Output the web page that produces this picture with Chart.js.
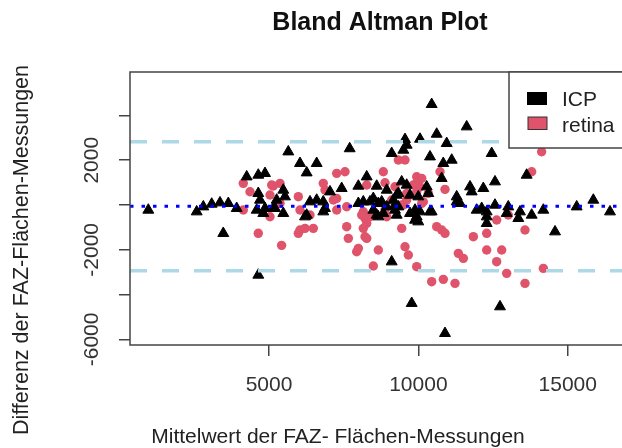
<!DOCTYPE html>
<html>
<head>
<meta charset="utf-8">
<script src="https://cdn.jsdelivr.net/npm/chart.js@4/dist/chart.umd.min.js"></script>
<style>
html,body{margin:0;padding:0;background:#fff;overflow:hidden;}
#wrap{width:640px;height:448px;}
</style>
</head>
<body>
<div id="wrap"><canvas id="c" width="640" height="448"></canvas></div>
<script>
// ---- data ----
const icpMean = [958,2578,2800,3080,3358,3636,3917,3468,4252,4640,4865,4640,4697,4587,4808,4865,5200,4640,5256,5477,5534,5477,5142,5645,6036,6595,6260,6204,6371,6595,6816,6873,7041,7432,7700,6260,6816,8270,7990,8605,8940,9441,9329,9106,9497,9552,9608,10054,10445,10613,10948,10389,10834,11116,10780,10278,11617,11283,11283,9997,9274,9719,10333,9608,11393,9719,9943,9997,9887,10445,9776,10891,9106,8156,8491,8772,9160,8491,8659,9217,9274,7990,8380,8659,8605,10054,10389,9887,11729,11785,12174,12565,11952,12120,12287,12565,12287,12287,13010,12956,13402,13346,13793,14183,15300,15857,16415,14575,12732,12454,13625,9329,9217,8940,8826];
const icpDiff = [-223,-299,-76,45,103,76,-147,-1263,1263,1339,1415,522,223,-223,-370,-147,-147,-3125,223,670,372,-370,-147,2380,1862,1862,1442,-522,148,223,148,-147,594,744,2520,-446,-299,1263,848,848,670,1041,522,2307,2455,2932,2678,2946,4495,3169,2753,2156,1862,2009,1192,818,3497,372,148,372,446,446,522,893,76,-370,-522,-745,-223,-299,-4388,-5729,-2531,148,299,148,223,-223,-522,-223,-446,76,148,76,-446,-299,-299,-670,818,594,745,1041,-223,-147,-299,0,-522,-818,-76,-370,-299,-594,-446,-223,-76,223,-299,-1192,-4538,2307,1339,-76,0,-76,-370];
const retinaMean = [4138,4362,5142,5032,4138,5032,5088,5367,5367,4640,5420,5980,6036,6371,6036,6204,6483,5980,6816,6873,7265,7543,7152,7265,7600,7655,7600,7265,8270,8826,8883,9217,9329,9552,9943,10111,9829,10054,9943,9943,10891,10724,9608,9106,8156,8213,8270,8102,8380,8883,8940,9441,9497,10165,10111,8156,8213,8270,9441,10613,10780,10891,11840,9552,9664,9943,7990,7934,8491,8659,10445,10835,11226,11338,11505,10333,9608,12621,13010,13569,12287,12287,12789,12621,12956,13569,14183,14127,13793];
const retinaDiff = [969,594,848,446,-223,-522,893,969,76,-1263,-1800,372,-223,-446,-1116,-1042,-1042,-1263,969,670,1415,1487,223,-223,-967,-1487,-76,299,893,1487,997,818,2009,2009,1263,1192,893,818,594,969,700,1487,223,223,-299,-595,-818,-446,-522,-223,-522,0,0,148,76,-1042,-1415,-1487,-1042,-967,-1116,-1263,-1414,-1862,-2232,-2753,-1935,-2084,-2723,-2009,-3423,-3318,-3497,-2157,-2380,522,522,-670,-446,-1116,-1263,-2009,-2009,-2530,-3050,-3497,-2827,2380,1487];
const meanDiff = -50;
const upperLoA = 2830;
const lowerLoA = -2930;
const xTickValues = [5000, 10000, 15000];
const yTickValues = [-6000, -4000, -2000, 0, 2000, 4000];
const yTickLabels = {"-6000": "-6000", "-2000": "-2000", "2000": "2000"};
const seriesNames = ["ICP", "retina"];
const titleText = "Bland Altman Plot";
const xTitle = "Mittelwert der FAZ- Flächen-Messungen";
const yTitle = "Differenz der FAZ-Flächen-Messungen";

// ---- build ----
const X_MIN = 345, X_MAX = 17085, Y_MIN = -6250, Y_MAX = 5940;
const PINK = '#DF536B';
const FONT = "'Liberation Sans', Arial, sans-serif";
const toPts = (xs, ys) => xs.map((x, i) => ({x: x, y: ys[i]}));
const hline = (v) => [{x: X_MIN, y: v}, {x: X_MAX, y: v}];

const rPlugin = {
  id: 'rstyle',
  afterDatasetsDraw(chart) {
    const ctx = chart.ctx, a = chart.chartArea;
    ctx.save();
    // box
    ctx.strokeStyle = '#444'; ctx.lineWidth = 1.5;
    ctx.strokeRect(a.left, a.top, a.right - a.left, a.bottom - a.top);
    // legend
    const lx = 509, ly = a.top, lw = a.right - lx, lh = 76;
    ctx.fillStyle = '#fff';
    ctx.fillRect(lx, ly, lw, lh);
    ctx.strokeRect(lx, ly, lw, lh);
    ctx.fillStyle = '#000';
    ctx.fillRect(527, 92, 20, 13);
    ctx.fillStyle = PINK;
    ctx.fillRect(528, 117, 19, 12.5);
    ctx.strokeStyle = '#333'; ctx.lineWidth = 1;
    ctx.strokeRect(528, 117, 19, 12.5);
    ctx.fillStyle = '#222';
    ctx.font = '21px ' + FONT;
    ctx.textAlign = 'left'; ctx.textBaseline = 'alphabetic';
    ctx.fillText(seriesNames[0], 562, 106);
    ctx.fillText(seriesNames[1], 562, 132);
    ctx.restore();
  },
  afterDraw(chart) {
    const ctx = chart.ctx, ys = chart.scales.y;
    ctx.save();
    ctx.fillStyle = '#333';
    ctx.font = '21px ' + FONT;
    ctx.textAlign = 'center'; ctx.textBaseline = 'middle';
    yTickValues.forEach(v => {
      const lab = yTickLabels[String(v)];
      if (!lab) return;
      const py = ys.getPixelForValue(v);
      ctx.save(); ctx.translate(92, py); ctx.rotate(-Math.PI / 2);
      ctx.fillText(lab, 0, 0); ctx.restore();
    });
    // axis titles
    ctx.fillStyle = '#222';
    ctx.font = '21.5px ' + FONT;
    ctx.save(); ctx.translate(22, 250); ctx.rotate(-Math.PI / 2);
    ctx.fillText(yTitle, 0, 0); ctx.restore();
    ctx.font = '21px ' + FONT;
    ctx.textBaseline = 'alphabetic';
    ctx.fillText(xTitle, 338, 443);
    ctx.restore();
  }
};

new Chart(document.getElementById('c'), {
  type: 'scatter',
  data: {
    datasets: [
      {label: 'upper', type: 'line', data: hline(upperLoA), borderColor: '#ADD8E6', borderWidth: 3.5, borderDash: [17, 15], pointRadius: 0, order: 0},
      {label: 'lower', type: 'line', data: hline(lowerLoA), borderColor: '#ADD8E6', borderWidth: 3.5, borderDash: [17, 15], pointRadius: 0, order: 0},
      {label: 'mean', type: 'line', data: hline(meanDiff), borderColor: '#0000FF', borderWidth: 3, borderDash: [3.5, 8], pointRadius: 0, order: 0},
      {label: seriesNames[0], data: toPts(icpMean, icpDiff), pointStyle: 'triangle', pointRadius: 6.3, backgroundColor: '#000', borderColor: '#000', borderWidth: 1, order: 1},
      {label: seriesNames[1], data: toPts(retinaMean, retinaDiff), pointStyle: 'circle', pointRadius: 4.7, backgroundColor: PINK, borderColor: PINK, borderWidth: 0, order: 2}
    ]
  },
  options: {
    responsive: false,
    animation: false,
    layout: {padding: {left: 0, right: 10, top: 0, bottom: 0}},
    plugins: {
      legend: {display: false},
      tooltip: {enabled: false},
      title: {display: true, text: titleText, fullSize: false, color: '#111',
        font: {family: FONT, size: 25, weight: 'bold'}, padding: {top: 8, bottom: 34}}
    },
    scales: {
      x: {
        type: 'linear', min: X_MIN, max: X_MAX,
        afterBuildTicks: s => { s.ticks = xTickValues.map(v => ({value: v})); },
        afterFit: s => { s.height = 103; },
        grid: {display: true, drawOnChartArea: false, drawTicks: true, tickLength: 11, color: '#444', lineWidth: 1.5},
        border: {display: false},
        ticks: {color: '#333', font: {family: FONT, size: 21}, padding: 17, maxRotation: 0, autoSkip: false,
          callback: v => String(v)}
      },
      y: {
        type: 'linear', min: Y_MIN, max: Y_MAX,
        afterBuildTicks: s => { s.ticks = yTickValues.map(v => ({value: v})); },
        afterFit: s => { s.width = 130; },
        grid: {display: true, drawOnChartArea: false, drawTicks: true, tickLength: 11, color: '#444', lineWidth: 1.5},
        border: {display: false},
        ticks: {display: false}
      }
    }
  },
  plugins: [rPlugin]
});
</script>
</body>
</html>
